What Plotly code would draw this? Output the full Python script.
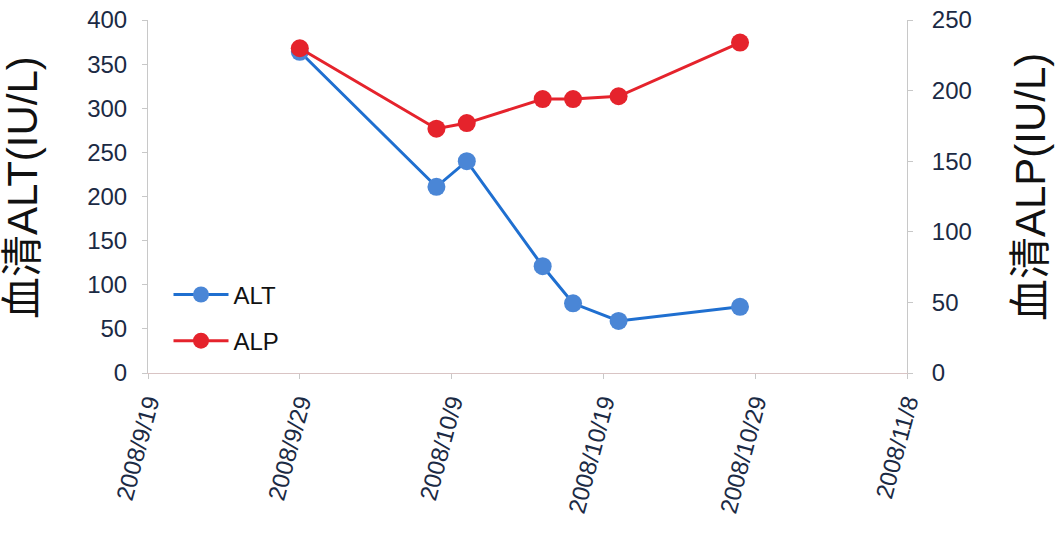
import plotly.graph_objects as go

# Serum enzyme measurements over the follow-up period
alt_dates = ["2008-09-29", "2008-10-08", "2008-10-10", "2008-10-15", "2008-10-17", "2008-10-20", "2008-10-28"]
alt_values = [364, 211, 240, 121, 79, 59, 75]

alp_dates = ["2008-09-29", "2008-10-08", "2008-10-10", "2008-10-15", "2008-10-17", "2008-10-20", "2008-10-28"]
alp_values = [230, 173, 177, 194, 194, 196, 234]

x_ticks = ["2008-09-19", "2008-09-29", "2008-10-09", "2008-10-19", "2008-10-29", "2008-11-08"]
x_tick_text = ["2008/9/19", "2008/9/29", "2008/10/9", "2008/10/19", "2008/10/29", "2008/11/8"]

left_ticks = [0, 50, 100, 150, 200, 250, 300, 350, 400]
right_ticks = [0, 50, 100, 150, 200, 250]

left_title = "血清ALT(IU/L)"
right_title = "血清ALP(IU/L)"

TICK_COLOR = "#1b2a44"
TITLE_COLOR = "#111111"
FONT = "Arial, Liberation Sans, Noto Sans CJK SC, sans-serif"

fig = go.Figure()
fig.add_trace(go.Scatter(
    x=alt_dates, y=alt_values, name="ALT", mode="lines+markers",
    legendgroup="alt",
    line=dict(color="#1f6fd0", width=3),
    marker=dict(color="#4a86d6", size=18),
    yaxis="y",
))
fig.add_trace(go.Scatter(
    x=alp_dates, y=alp_values, name="ALP", mode="lines+markers",
    legendgroup="alp",
    line=dict(color="#e5232c", width=3),
    marker=dict(color="#e5232c", size=18),
    yaxis="y2",
))

axis_line = "#c8c8c8"

fig.update_layout(
    width=1062, height=537,
    margin=dict(l=148, r=155, t=20, b=164, autoexpand=False),
    paper_bgcolor="white", plot_bgcolor="white",
    font=dict(family=FONT, color=TICK_COLOR),
    showlegend=True,
    legend=dict(
        x=0.027, y=0.285, xanchor="left", yanchor="top",
        bgcolor="rgba(0,0,0,0)",
        font=dict(size=24, color=TITLE_COLOR),
        tracegroupgap=12,
        itemwidth=55,
    ),
    xaxis=dict(
        type="date",
        range=["2008-09-19", "2008-11-08"],
        tickmode="array", tickvals=x_ticks, ticktext=x_tick_text,
        tickangle=-75,
        tickfont=dict(size=24, color=TICK_COLOR),
        showgrid=False, zeroline=False,
        showline=True, linecolor="#d9c4c4", linewidth=1,
        ticks="outside", ticklen=5, tickcolor=axis_line,
        automargin=False,
    ),
    yaxis=dict(
        range=[0, 400],
        tickmode="array", tickvals=left_ticks,
        tickfont=dict(size=24, color=TICK_COLOR),
        showgrid=False, zeroline=False,
        showline=True, linecolor=axis_line, linewidth=1,
        ticks="outside", ticklen=5, tickcolor=axis_line,
        ticklabelstandoff=10,
        automargin=False,
    ),
    yaxis2=dict(
        range=[0, 250],
        overlaying="y", side="right",
        tickmode="array", tickvals=right_ticks,
        tickfont=dict(size=24, color=TICK_COLOR),
        showgrid=False, zeroline=False,
        showline=True, linecolor=axis_line, linewidth=1,
        ticks="outside", ticklen=5, tickcolor=axis_line,
        ticklabelstandoff=14,
        automargin=False,
    ),
    annotations=[
        dict(text=left_title, xref="paper", yref="paper", x=-0.165, y=0.526,
             xanchor="center", yanchor="middle", textangle=-90, showarrow=False,
             font=dict(size=42, color=TITLE_COLOR)),
        dict(text=right_title, xref="paper", yref="paper", x=1.163, y=0.526,
             xanchor="center", yanchor="middle", textangle=-90, showarrow=False,
             font=dict(size=42, color=TITLE_COLOR)),
    ],
)

fig.write_html("out.html")
